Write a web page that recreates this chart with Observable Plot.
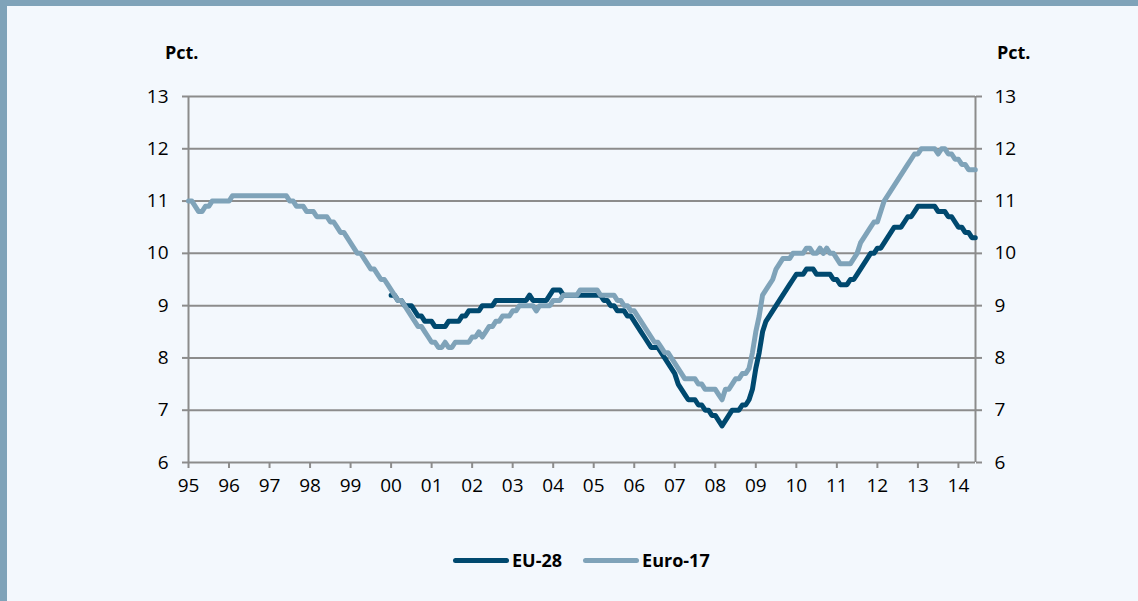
<!DOCTYPE html>
<html>
<head>
<meta charset="utf-8">
<script src="https://cdn.jsdelivr.net/npm/d3@7"></script>
<script src="https://cdn.jsdelivr.net/npm/@observablehq/plot@0.6"></script>
<style>
  html, body { margin: 0; padding: 0; }
  body { width: 1138px; height: 601px; overflow: hidden; }
  #wrap { position: relative; width: 1138px; height: 601px; background: #f3f8fd; font-family: "Open Sans", "Noto Sans", sans-serif; }
  #topbar { position: absolute; left: 0; top: 0; width: 1138px; height: 6px; background: #7fa3b9; }
  #leftbar { position: absolute; left: 0; top: 0; width: 7px; height: 601px; background: #7fa3b9; }
  #chart { position: absolute; left: 0; top: 0; }
  .pct { position: absolute; top: 40px; font-weight: 700; font-size: 18px; color: #000; }
  #legend { position: absolute; top: 548px; left: 453px; display: flex; align-items: center; font-weight: 700; font-size: 18px; color: #000; }
  .sw { display: inline-block; width: 56px; height: 5px; border-radius: 3px; margin-right: 3px; }
  .item { display: flex; align-items: center; margin-right: 21px; }
</style>
</head>
<body>
<div id="wrap">
  <div id="topbar"></div>
  <div id="leftbar"></div>
  <div id="chart"></div>
  <div class="pct" style="left:165px">Pct.</div>
  <div class="pct" style="left:997px">Pct.</div>
  <div id="legend"></div>
</div>
<script>
// Series names and colours
const seriesNames = ["EU-28", "Euro-17"];
const seriesColors = ["#00496f", "#7fa3b9"];

// Monthly unemployment rate, Euro-17, from Jan 1995
const euro17Start = 1995;
const euro17 = [
  11.0, 11.0, 10.9, 10.8, 10.8, 10.9, 10.9, 11.0, 11.0, 11.0, 11.0, 11.0, // 1995
  11.0, 11.1, 11.1, 11.1, 11.1, 11.1, 11.1, 11.1, 11.1, 11.1, 11.1, 11.1, // 1996
  11.1, 11.1, 11.1, 11.1, 11.1, 11.1, 11.0, 11.0, 10.9, 10.9, 10.9, 10.8, // 1997
  10.8, 10.8, 10.7, 10.7, 10.7, 10.7, 10.6, 10.6, 10.5, 10.4, 10.4, 10.3, // 1998
  10.2, 10.1, 10.0, 10.0, 9.9, 9.8, 9.7, 9.7, 9.6, 9.5, 9.5, 9.4,         // 1999
  9.3, 9.2, 9.1, 9.1, 9.0, 8.9, 8.8, 8.7, 8.6, 8.6, 8.5, 8.4,             // 2000
  8.3, 8.3, 8.2, 8.2, 8.3, 8.2, 8.2, 8.3, 8.3, 8.3, 8.3, 8.3,             // 2001
  8.4, 8.4, 8.5, 8.4, 8.5, 8.6, 8.6, 8.7, 8.7, 8.8, 8.8, 8.8,             // 2002
  8.9, 8.9, 9.0, 9.0, 9.0, 9.0, 9.0, 8.9, 9.0, 9.0, 9.0, 9.0,             // 2003
  9.1, 9.1, 9.1, 9.2, 9.2, 9.2, 9.2, 9.2, 9.3, 9.3, 9.3, 9.3,             // 2004
  9.3, 9.3, 9.2, 9.2, 9.2, 9.2, 9.2, 9.1, 9.1, 9.0, 9.0, 8.9,             // 2005
  8.9, 8.8, 8.7, 8.6, 8.5, 8.4, 8.3, 8.3, 8.2, 8.1, 8.1, 8.0,             // 2006
  7.9, 7.8, 7.7, 7.6, 7.6, 7.6, 7.6, 7.5, 7.5, 7.4, 7.4, 7.4,             // 2007
  7.4, 7.3, 7.2, 7.4, 7.4, 7.5, 7.6, 7.6, 7.7, 7.7, 7.8, 8.1,             // 2008
  8.5, 8.8, 9.2, 9.3, 9.4, 9.5, 9.7, 9.8, 9.9, 9.9, 9.9, 10.0,            // 2009
  10.0, 10.0, 10.0, 10.1, 10.1, 10.0, 10.0, 10.1, 10.0, 10.1, 10.0, 10.0, // 2010
  9.9, 9.8, 9.8, 9.8, 9.8, 9.9, 10.0, 10.2, 10.3, 10.4, 10.5, 10.6,       // 2011
  10.6, 10.8, 11.0, 11.1, 11.2, 11.3, 11.4, 11.5, 11.6, 11.7, 11.8, 11.9, // 2012
  11.9, 12.0, 12.0, 12.0, 12.0, 12.0, 11.9, 12.0, 12.0, 11.9, 11.9, 11.8, // 2013
  11.8, 11.7, 11.7, 11.6, 11.6, 11.6                                      // 2014
];

// Monthly unemployment rate, EU-28, from Jan 2000
const eu28Start = 2000;
const eu28 = [
  9.2, 9.2, 9.1, 9.1, 9.0, 9.0, 9.0, 8.9, 8.8, 8.8, 8.7, 8.7,             // 2000
  8.7, 8.6, 8.6, 8.6, 8.6, 8.7, 8.7, 8.7, 8.7, 8.8, 8.8, 8.9,             // 2001
  8.9, 8.9, 8.9, 9.0, 9.0, 9.0, 9.0, 9.1, 9.1, 9.1, 9.1, 9.1,             // 2002
  9.1, 9.1, 9.1, 9.1, 9.1, 9.2, 9.1, 9.1, 9.1, 9.1, 9.1, 9.2,             // 2003
  9.3, 9.3, 9.3, 9.2, 9.2, 9.2, 9.2, 9.2, 9.2, 9.2, 9.2, 9.2,             // 2004
  9.2, 9.2, 9.2, 9.1, 9.1, 9.0, 9.0, 8.9, 8.9, 8.9, 8.8, 8.8,             // 2005
  8.7, 8.6, 8.5, 8.4, 8.3, 8.2, 8.2, 8.2, 8.1, 8.0, 7.9, 7.8,             // 2006
  7.7, 7.5, 7.4, 7.3, 7.2, 7.2, 7.2, 7.1, 7.1, 7.0, 7.0, 6.9,             // 2007
  6.9, 6.8, 6.7, 6.8, 6.9, 7.0, 7.0, 7.0, 7.1, 7.1, 7.2, 7.4,             // 2008
  7.8, 8.1, 8.5, 8.7, 8.8, 8.9, 9.0, 9.1, 9.2, 9.3, 9.4, 9.5,             // 2009
  9.6, 9.6, 9.6, 9.7, 9.7, 9.7, 9.6, 9.6, 9.6, 9.6, 9.6, 9.5,             // 2010
  9.5, 9.4, 9.4, 9.4, 9.5, 9.5, 9.6, 9.7, 9.8, 9.9, 10.0, 10.0,           // 2011
  10.1, 10.1, 10.2, 10.3, 10.4, 10.5, 10.5, 10.5, 10.6, 10.7, 10.7, 10.8, // 2012
  10.9, 10.9, 10.9, 10.9, 10.9, 10.9, 10.8, 10.8, 10.8, 10.7, 10.7, 10.6, // 2013
  10.5, 10.5, 10.4, 10.4, 10.3, 10.3                                      // 2014
];

// Axis ticks
const yearTicks = d3.range(1995, 2015);
const yearLabels = ["95","96","97","98","99","00","01","02","03","04","05","06","07","08","09","10","11","12","13","14"];
const yTicks = [6, 7, 8, 9, 10, 11, 12, 13];

const toRows = (arr, start, name) => arr.map((v, i) => ({t: start + i / 12, v, s: name}));
const rowsEU = toRows(eu28, eu28Start, seriesNames[0]);
const rowsEuro = toRows(euro17, euro17Start, seriesNames[1]);
const xMax = euro17Start + (euro17.length - 1) / 12 + 0.005;

const gridColor = "#8c8c8c";
const labelOf = new Map(yearTicks.map((y, i) => [y, yearLabels[i]]));

const chart = Plot.plot({
  width: 1138,
  height: 510,
  marginLeft: 188,
  marginRight: 163,
  marginTop: 96,
  marginBottom: 48,
  style: {background: "transparent", fontFamily: "'Open Sans', 'Noto Sans', sans-serif", fontSize: "19px", color: "#000"},
  x: {type: "linear", domain: [1995, xMax]},
  y: {domain: [6, 13]},
  marks: [
    Plot.ruleY(yTicks, {stroke: gridColor, strokeWidth: 2}),
    Plot.ruleX([1995, xMax], {stroke: gridColor, strokeWidth: 2}),
    Plot.axisY({anchor: "left", ticks: yTicks, tickSize: 6, tickPadding: 14, stroke: gridColor, strokeWidth: 2, label: null, fill: "#000", tickFormat: d => String(d), fontSize: 19}),
    Plot.axisY({anchor: "right", ticks: yTicks, tickSize: 6, tickPadding: 13, stroke: gridColor, strokeWidth: 2, label: null, fill: "#000", tickFormat: d => String(d), fontSize: 19}),
    Plot.axisX({anchor: "bottom", ticks: yearTicks, tickSize: 6, tickPadding: 10, stroke: gridColor, strokeWidth: 2, label: null, fill: "#000", tickFormat: d => labelOf.get(d), fontSize: 19}),
    Plot.line(rowsEU, {x: "t", y: "v", stroke: seriesColors[0], strokeWidth: 5, strokeLinejoin: "round", strokeLinecap: "round"}),
    Plot.line(rowsEuro, {x: "t", y: "v", stroke: seriesColors[1], strokeWidth: 5, strokeLinejoin: "round", strokeLinecap: "round"})
  ]
});
document.getElementById("chart").appendChild(chart);

const legend = document.getElementById("legend");
seriesNames.forEach((name, i) => {
  const item = document.createElement("div");
  item.className = "item";
  const sw = document.createElement("span");
  sw.className = "sw";
  sw.style.background = seriesColors[i];
  const label = document.createElement("span");
  label.textContent = name;
  item.appendChild(sw);
  item.appendChild(label);
  legend.appendChild(item);
});
</script>
</body>
</html>
